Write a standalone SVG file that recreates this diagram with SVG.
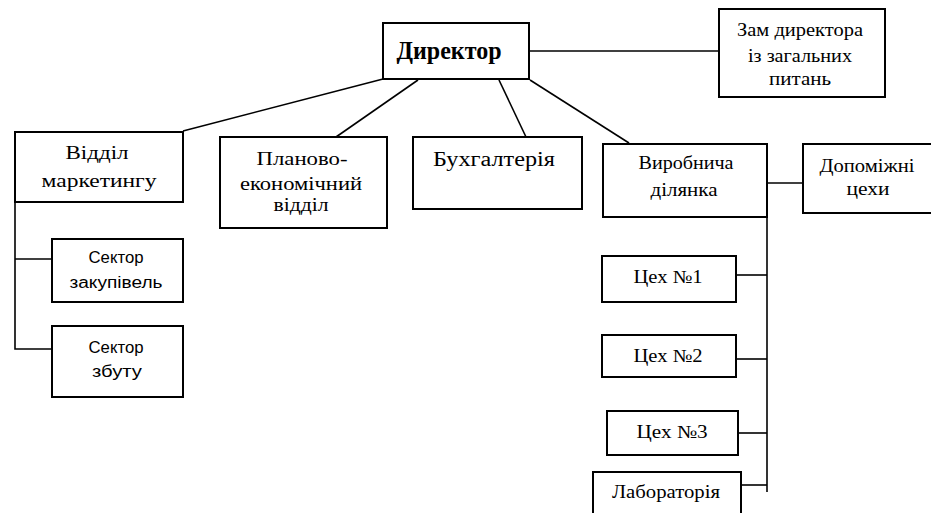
<svg xmlns="http://www.w3.org/2000/svg" width="931" height="513" viewBox="0 0 931 513">
<style>
.box{fill:#fff;stroke:#000;stroke-width:2}
.ln{fill:none;stroke:#000;stroke-width:1.6}
text{font-family:"Liberation Serif","Times New Roman",serif;font-size:18px;fill:#000;text-anchor:middle}
.big{font-size:20px}
.b{font-weight:bold;font-size:26px}
.s{font-family:"Liberation Sans",Arial,sans-serif;font-size:16px}
</style>
<rect width="931" height="513" fill="#fff"/>
<g id="connectors">
<line class="ln" x1="529" y1="51" x2="719" y2="51"/>
<line class="ln" x1="383" y1="79" x2="183" y2="131"/>
<line class="ln" x1="418" y1="80" x2="336" y2="137"/>
<line class="ln" x1="499" y1="80" x2="526" y2="137"/>
<line class="ln" x1="530" y1="80" x2="629" y2="143"/>
<polyline class="ln" points="15,202 15,349 52,349"/>
<line class="ln" x1="15" y1="259" x2="52" y2="259"/>
<line class="ln" x1="767" y1="183" x2="803" y2="183"/>
<line class="ln" x1="767" y1="217" x2="767" y2="492"/>
<line class="ln" x1="736" y1="275" x2="767" y2="275"/>
<line class="ln" x1="736" y1="359" x2="767" y2="359"/>
<line class="ln" x1="738" y1="433" x2="767" y2="433"/>
<line class="ln" x1="741" y1="485" x2="767" y2="485"/>
</g>
<g id="director">
<rect class="box" x="383" y="23" width="146" height="56"/>
<text class="b" x="449" y="59" textLength="105" lengthAdjust="spacingAndGlyphs">Директор</text>
</g>
<g id="deputy">
<rect class="box" x="719" y="9" width="166" height="88"/>
<text x="800" y="36" textLength="126" lengthAdjust="spacingAndGlyphs">Зам директора</text>
<text x="800" y="62" textLength="104" lengthAdjust="spacingAndGlyphs">із загальних</text>
<text x="800" y="85" textLength="62" lengthAdjust="spacingAndGlyphs">питань</text>
</g>
<g id="marketing">
<rect class="box" x="15" y="132" width="168" height="70"/>
<text x="97" y="159" textLength="63" lengthAdjust="spacingAndGlyphs">Відділ</text>
<text x="99" y="187" textLength="115" lengthAdjust="spacingAndGlyphs">маркетингу</text>
</g>
<g id="planning">
<rect class="box" x="220" y="137" width="167" height="91"/>
<text x="302" y="165" textLength="91" lengthAdjust="spacingAndGlyphs">Планово-</text>
<text x="301" y="190" textLength="122" lengthAdjust="spacingAndGlyphs">економічний</text>
<text x="301" y="211" textLength="55" lengthAdjust="spacingAndGlyphs">відділ</text>
</g>
<g id="accounting">
<rect class="box" x="413" y="137" width="169" height="72"/>
<text class="big" x="494" y="166" textLength="122" lengthAdjust="spacingAndGlyphs">Бухгалтерія</text>
</g>
<g id="production">
<rect class="box" x="603" y="144" width="164" height="73"/>
<text x="686" y="169" textLength="95" lengthAdjust="spacingAndGlyphs">Виробнича</text>
<text x="684" y="196" textLength="67" lengthAdjust="spacingAndGlyphs">ділянка</text>
</g>
<g id="auxiliary">
<rect class="box" x="803" y="144" width="132" height="69"/>
<text x="867" y="172" textLength="95" lengthAdjust="spacingAndGlyphs">Допоміжні</text>
<text x="868" y="195" textLength="43" lengthAdjust="spacingAndGlyphs">цехи</text>
</g>
<g id="purchasing">
<rect class="box" x="52" y="239" width="131" height="63"/>
<text class="s" x="116" y="263" textLength="55" lengthAdjust="spacingAndGlyphs">Сектор</text>
<text class="s" x="116" y="288" textLength="93" lengthAdjust="spacingAndGlyphs">закупівель</text>
</g>
<g id="sales">
<rect class="box" x="52" y="326" width="131" height="71"/>
<text class="s" x="116" y="353" textLength="55" lengthAdjust="spacingAndGlyphs">Сектор</text>
<text class="s" x="117" y="377" textLength="50" lengthAdjust="spacingAndGlyphs">збуту</text>
</g>
<g id="shop1">
<rect class="box" x="602" y="256" width="134" height="46"/>
<text x="668" y="283" textLength="69" lengthAdjust="spacingAndGlyphs">Цех №1</text>
</g>
<g id="shop2">
<rect class="box" x="602" y="335" width="134" height="42"/>
<text x="668" y="362" textLength="69" lengthAdjust="spacingAndGlyphs">Цех №2</text>
</g>
<g id="shop3">
<rect class="box" x="607" y="411" width="131" height="44"/>
<text x="672" y="438" textLength="71" lengthAdjust="spacingAndGlyphs">Цех №3</text>
</g>
<g id="laboratory">
<rect class="box" x="593" y="472" width="148" height="50"/>
<text x="666" y="498" textLength="108" lengthAdjust="spacingAndGlyphs">Лабораторія</text>
</g>
</svg>
